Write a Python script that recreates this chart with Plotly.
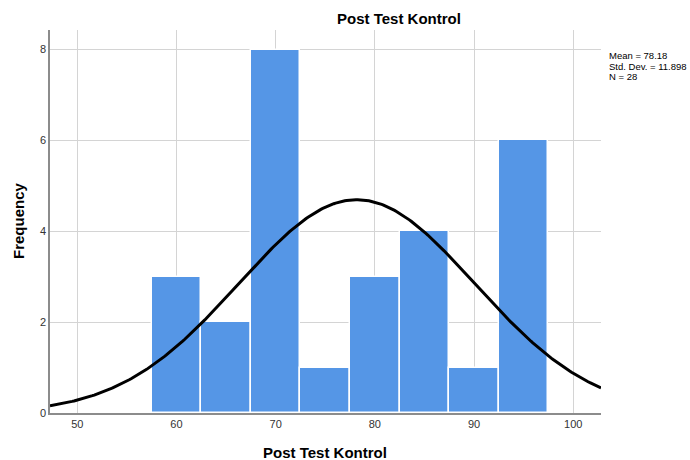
import numpy as np
import plotly.graph_objects as go

bin_centers = [60, 65, 70, 75, 80, 85, 90, 95]
frequencies = [3, 2, 8, 1, 3, 4, 1, 6]
bin_width = 5
mean_val = 78.18
std_dev = 11.898
n_total = 28
x_ticks = [50, 60, 70, 80, 90, 100]
y_ticks = [0, 2, 4, 6, 8]
stat_lines = [f"Mean = {mean_val:.2f}", f"Std. Dev. = {std_dev:.3f}", f"N = {n_total}"]

x_range = [47.25, 102.8]
y_range = [0, 8.43]

xs = np.linspace(x_range[0], x_range[1], 300)
ys = n_total * bin_width * np.exp(-0.5 * ((xs - mean_val) / std_dev) ** 2) / (std_dev * np.sqrt(2 * np.pi))

fig = go.Figure()
fig.add_trace(go.Bar(
    x=bin_centers, y=frequencies, width=[bin_width] * len(bin_centers),
    marker=dict(color="#5596E6", line=dict(color="white", width=1.5)),
    hoverinfo="skip", showlegend=False,
))
fig.add_trace(go.Scatter(
    x=xs, y=ys, mode="lines", line=dict(color="black", width=3),
    hoverinfo="skip", showlegend=False, cliponaxis=True,
))

font_family = "Liberation Sans, Arial, sans-serif"
W, H = 690, 460
ml, mr, mt, mb = 50, 89, 30, 47

fig.update_layout(
    width=W, height=H,
    margin=dict(l=ml, r=mr, t=mt, b=mb),
    paper_bgcolor="white", plot_bgcolor="white",
    font=dict(family=font_family, size=11, color="#333333"),
    bargap=0,
    xaxis=dict(
        range=x_range, tickvals=x_ticks, ticktext=[str(v) for v in x_ticks],
        showgrid=True, gridcolor="#d4d4d4", gridwidth=1,
        showline=True, linecolor="#8c8c8c", linewidth=1.5,
        zeroline=False, ticks="", ticklen=0, tickfont=dict(size=11, color="#333333"),
    ),
    yaxis=dict(
        range=y_range, tickvals=y_ticks, ticktext=[str(v) for v in y_ticks],
        showgrid=True, gridcolor="#d4d4d4", gridwidth=1,
        showline=True, linecolor="#8c8c8c", linewidth=1.5,
        zeroline=False, ticks="", ticklen=0, tickfont=dict(size=11, color="#333333"),
    ),
)

pw = W - ml - mr
ph = H - mt - mb

def px_x(p):
    return (p - ml) / pw

def px_y(p):
    return (H - mb - p) / ph

annotations = [
    dict(text="<b>Post Test Kontrol</b>", x=px_x(399), y=px_y(18), xref="paper", yref="paper",
         xanchor="center", yanchor="middle", showarrow=False, font=dict(size=15, color="black")),
    dict(text="<b>Post Test Kontrol</b>", x=px_x(325), y=px_y(452), xref="paper", yref="paper",
         xanchor="center", yanchor="middle", showarrow=False, font=dict(size=15, color="black")),
    dict(text="<b>Frequency</b>", x=px_x(18), y=px_y(221), xref="paper", yref="paper",
         xanchor="center", yanchor="middle", showarrow=False, textangle=-90,
         font=dict(size=15, color="black")),
]
for i, line in enumerate(stat_lines):
    annotations.append(dict(
        text=line, x=px_x(607), y=px_y(55.5 + 10.5 * i), xref="paper", yref="paper",
        xanchor="left", yanchor="middle", align="left", showarrow=False,
        font=dict(size=9.5, color="black"),
    ))
fig.update_layout(annotations=annotations)

fig.write_html("out.html", config={"displayModeBar": False})

with open("out.html", "r", encoding="utf-8") as f:
    html = f.read()
html = html.replace("<body>", '<body style="margin:0;padding:0;overflow:hidden">', 1)
with open("out.html", "w", encoding="utf-8") as f:
    f.write(html)
